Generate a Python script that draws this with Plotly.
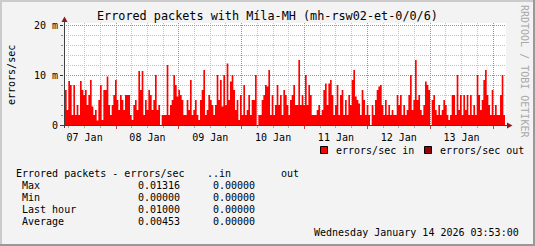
import plotly.graph_objects as go
import pandas as pd

# ---- data (milli-errors/sec, one value per ~38 min sample) ----
in_values_m = [
    7, 3, 8.8, 8, 2, 8, 2, 4, 2, 8.8, 7, 6, 7, 4, 6, 9, 3.7, 2, 3, 0.9,
    5, 8, 1, 7, 7, 9.7, 4, 2, 4, 6, 9, 5, 3, 6, 5, 3, 6, 6, 6, 2,
    1, 4, 5, 3, 10.8, 7, 10.8, 2, 5, 3, 7, 6, 3, 5, 10, 3, 4, 0, 2, 2,
    2, 12, 2, 4, 5, 10, 8, 5.7, 7, 6, 5, 2, 2, 5, 3, 9, 2, 3, 5, 2,
    1, 5, 7, 11, 2, 3, 6, 5, 4, 2, 4, 10, 5, 9, 3.7, 10, 4, 12.3, 5, 8.7,
    10, 7, 3, 5, 1, 6, 2, 8, 2, 3, 6, 2, 5, 5, 10, 0, 2, 2, 5, 6,
    8, 7.7, 11,
    2, 6, 2, 4, 8, 4, 6, 2, 7, 6, 4, 2, 5, 6, 8, 4, 4, 13, 4, 6,
    4, 10, 4, 8, 6, 2, 2, 2, 3, 4, 2, 3, 7, 8.3, 4, 8.3, 9, 6, 2, 4,
    8, 2, 6, 7, 2, 5, 2, 6, 4, 9, 11, 5.7, 5, 4.3, 2, 7, 5, 2, 4, 2,
    0, 4, 2, 5, 7, 7.7, 8, 4, 2, 5, 2, 4, 2, 3, 2, 2, 6, 4, 6, 2,
    4, 2, 3, 6, 10, 3, 5, 13, 5, 6, 3, 2, 4, 8.7, 8, 7, 0, 5, 6, 3,
    2, 4, 2, 3, 5, 4, 2, 1, 2, 6, 6, 2, 10, 3, 6, 2, 6, 3, 6, 2,
    6, 2, 4, 2, 10, 6, 3, 5, 9, 11, 6, 4, 2, 7, 2, 4, 2, 2, 6, 10,
    2,
]
series_start = "2026-01-07 04:31"
step_seconds = 2292

legend_labels = ["errors/sec in", "errors/sec out"]
series_colors = ["#FF0000", "#990000"]

stat_labels = ["Max", "Min", "Last hour", "Average"]
stat_in = [0.01316, 0.00000, 0.01000, 0.00453]
stat_out = [0.00000, 0.00000, 0.00000, 0.00000]

title_text = "Errored packets with Míla-MH (mh-rsw02-et-0/0/6)"
y_title = "errors/sec"
ytick_vals = [0, 0.01, 0.02]
ytick_text = ["0", "10 m", "20 m"]
date_text = "Wednesday January 14 2026 03:53:00"
watermark = "RRDTOOL / TOBI OETIKER"

# ---- layout geometry ----
W, H = 535, 246
L, R, T, B = 64, 506, 23, 125
MONO = "DejaVu Sans Mono"


def px(x):
    return (x - L) / (R - L)


def py(y):
    return (B - y) / (B - T)


n = len(in_values_m)
t0 = pd.Timestamp(series_start)
xs = [t0 + pd.Timedelta(seconds=step_seconds * i) for i in range(n + 1)]
ys = [v / 1000.0 for v in in_values_m] + [in_values_m[-1] / 1000.0]

fig = go.Figure()
fig.add_trace(go.Scatter(
    x=xs, y=ys, mode="lines", line=dict(width=0, shape="hv", color=series_colors[0]),
    fill="tozeroy", fillcolor=series_colors[0], showlegend=False, hoverinfo="skip",
))

fig.update_layout(
    width=W, height=H,
    margin=dict(l=L, r=W - R, t=T, b=H - B, pad=0),
    paper_bgcolor="#F3F3F3", plot_bgcolor="#FFFFFF",
    showlegend=False,
    font=dict(family=MONO, size=10, color="#000000"),
)

fig.update_xaxes(
    type="date",
    range=["2026-01-07 04:08", "2026-01-14 04:58"],
    tick0="2026-01-07 00:00", dtick=86400000,
    ticklabelmode="period", tickformat="%d %b",
    showgrid=True, gridcolor="#E07878", griddash="1px,1px", gridwidth=1,
    ticks="outside", ticklen=3, tickcolor="#D04040",
    minor=dict(dtick=21600000, showgrid=True, gridcolor="#C4C4C4",
               griddash="1px,1px", ticks="outside", ticklen=2, tickcolor="#AAAAAA"),
    showline=False, zeroline=False,
    tickfont=dict(family=MONO, size=10, color="#000000"),
)

fig.update_yaxes(
    range=[0, 0.0204],
    tickvals=ytick_vals, ticktext=ytick_text,
    showgrid=True, gridcolor="#E07878", griddash="1px,1px", gridwidth=1,
    ticks="outside", ticklen=3, tickcolor="#333333",
    minor=dict(dtick=0.002, showgrid=True, gridcolor="#C4C4C4",
               griddash="1px,1px", ticks="outside", ticklen=2, tickcolor="#888888"),
    showline=False, zeroline=False,
    tickfont=dict(family=MONO, size=10, color="#000000"),
)

shapes = []
# axes lines
shapes.append(dict(type="line", xref="paper", yref="paper",
                   x0=px(64.5), x1=px(64.5), y0=py(128), y1=py(21),
                   line=dict(color="#404040", width=1)))
shapes.append(dict(type="line", xref="paper", yref="paper",
                   x0=px(61), x1=px(508), y0=py(125.5), y1=py(125.5),
                   line=dict(color="#404040", width=1)))
# arrowheads
shapes.append(dict(type="path", xref="paper", yref="paper",
                   path=f"M {px(61.5)} {py(22)} L {px(67.5)} {py(22)} L {px(64.5)} {py(16.5)} Z",
                   fillcolor="#8B1A1A", line=dict(width=0)))
shapes.append(dict(type="path", xref="paper", yref="paper",
                   path=f"M {px(507)} {py(122.5)} L {px(507)} {py(128.5)} L {px(512.5)} {py(125.5)} Z",
                   fillcolor="#8B1A1A", line=dict(width=0)))
# legend swatches
for x0, c in [(320.5, series_colors[0]), (424.5, series_colors[1])]:
    shapes.append(dict(type="rect", xref="paper", yref="paper",
                       x0=px(x0), x1=px(x0 + 7), y0=py(153.5), y1=py(146.5),
                       fillcolor=c, line=dict(color="#000000", width=1)))
# 3D border
shapes.append(dict(type="line", xref="paper", yref="paper",
                   x0=px(1), x1=px(1), y0=py(0), y1=py(H),
                   line=dict(color="#CBCBCB", width=2)))
shapes.append(dict(type="line", xref="paper", yref="paper",
                   x0=px(0), x1=px(W), y0=py(1), y1=py(1),
                   line=dict(color="#CBCBCB", width=2)))
shapes.append(dict(type="line", xref="paper", yref="paper",
                   x0=px(W - 1), x1=px(W - 1), y0=py(0), y1=py(H),
                   line=dict(color="#999999", width=2)))
shapes.append(dict(type="line", xref="paper", yref="paper",
                   x0=px(0), x1=px(W), y0=py(H - 1), y1=py(H - 1),
                   line=dict(color="#999999", width=2)))

annotations = []


def text(x, y, s, anchor="left", size=10, color="#000000", angle=0):
    annotations.append(dict(
        x=px(x), y=py(y), xref="paper", yref="paper", text=s, showarrow=False,
        xanchor=anchor, yanchor="middle", textangle=angle,
        font=dict(family=MONO, size=size, color=color),
    ))


text(267, 16, title_text, anchor="center", size=11.8)
text(11, 75, y_title, anchor="center", angle=-90)
text(525, 71, watermark, anchor="center", color="#A8A8A8", angle=90)
text(334, 150, legend_labels[0])
text(438, 150, legend_labels[1])

row_y = [185.5, 197.5, 209.5, 221.3]
text(14, 173.5, "Errored packets - errors/sec")
text(205, 173.5, "..in")
text(279, 173.5, "out")
for lbl, vi, vo, yy in zip(stat_labels, stat_in, stat_out, row_y):
    text(20, yy, lbl)
    text(182, yy, f"{vi:.5f}", anchor="right")
    text(257, yy, f"{vo:.5f}", anchor="right")

text(521, 233, date_text, anchor="right")

fig.update_layout(shapes=shapes, annotations=annotations)
fig.write_html("out.html")
